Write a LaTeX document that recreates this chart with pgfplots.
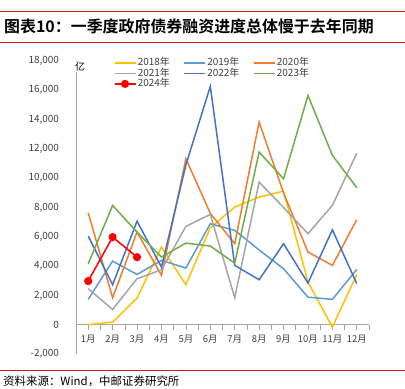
\documentclass[border=0pt]{standalone}
\usepackage{pgfplots}
\pgfplotsset{compat=1.18}
\usepackage{fontspec}
\setmainfont{Noto Sans CJK SC}[BoldFont={Noto Sans CJK SC Bold}]
\definecolor{c2018}{HTML}{FFC000}
\definecolor{c2019}{HTML}{5B9BD5}
\definecolor{c2020}{HTML}{ED7D31}
\definecolor{c2021}{HTML}{A5A5A5}
\definecolor{c2022}{HTML}{4472C4}
\definecolor{c2023}{HTML}{70AD47}
\definecolor{c2024}{HTML}{FF0000}
\definecolor{axgray}{HTML}{A6A6A6}
\definecolor{txtgray}{HTML}{404040}
\definecolor{headred}{HTML}{D01F26}
\begin{document}
\begin{tikzpicture}
\node[anchor=west, font=\fontsize{16}{16}\selectfont\bfseries, inner sep=0] at (4bp,-26bp) {图表10：一季度政府债券融资进度总体慢于去年同期};
\draw[headred, line width=1.3bp] (0bp,-11.3bp) -- (405bp,-11.3bp);
\draw[headred, line width=0.6bp] (0bp,-42.7bp) -- (405bp,-42.7bp);
\draw[headred, line width=0.8bp] (0bp,-370bp) -- (405bp,-370bp);
\node[anchor=west, font=\fontsize{11.5}{11.5}\selectfont, inner sep=0] at (3bp,-381.5bp) {资料来源：Wind，中邮证券研究所};
\begin{axis}[
  at={(76bp,-354bp)}, anchor=south west,
  scale only axis, width=293bp, height=293bp,
  xmin=0.5, xmax=12.5, ymin=-2000, ymax=18000,
  axis x line=middle, axis y line=left,
  axis line style={-, draw=axgray, line width=0.6bp},
  xtick={0.5,1.5,...,12.5}, xticklabels={},
  major tick length=5bp,
  x tick style={draw=axgray, line width=0.6bp, yshift=-2.5bp},
  extra x ticks={1,2,...,12},
  extra x tick labels={1月,2月,3月,4月,5月,6月,7月,8月,9月,10月,11月,12月},
  extra x tick style={tick style={draw=none}, tick label style={font=\fontsize{9.5}{9.5}\selectfont, text=txtgray, yshift=-4bp}},
  scaled y ticks=false,
  ytick={-2000,0,2000,4000,6000,8000,10000,12000,14000,16000,18000},
  yticklabels={-2{,}000,0,2{,}000,4{,}000,6{,}000,8{,}000,10{,}000,12{,}000,14{,}000,16{,}000,18{,}000},
  y tick style={draw=none},
  yticklabel style={font=\fontsize{10}{10}\selectfont, text=txtgray, xshift=-11bp},
  legend columns=3,
  legend style={at={(0.118,1.019)}, anchor=north west, draw=none, fill=none,
    font=\fontsize{10}{10}\selectfont, text=txtgray,
    nodes={inner xsep=1.5bp, inner ysep=0.5bp, text height=7.5bp, text depth=2bp},
    /tikz/every even column/.append style={column sep=12bp}},
  legend image code/.code={\draw[#1] (0bp,0bp) -- (21bp,0bp);},
  every axis plot/.append style={line width=1.5bp},
  clip=false,
]
\addplot[c2018, mark=none] coordinates {(1,0)(2,180)(3,1820)(4,5300)(5,2730)(6,6620)(7,8030)(8,8710)(9,9120)(10,2910)(11,-160)(12,3430)};
\addlegendentry{2018年}
\addplot[c2019, mark=none] coordinates {(1,1730)(2,4340)(3,3430)(4,4390)(5,3870)(6,6890)(7,6440)(8,5100)(9,3820)(10,1880)(11,1730)(12,3770)};
\addlegendentry{2019年}
\addplot[c2020, mark=none] coordinates {(1,7640)(2,1840)(3,6320)(4,3370)(5,11330)(6,7600)(7,5530)(8,13830)(9,9000)(10,4960)(11,4050)(12,7170)};
\addlegendentry{2020年}
\addplot[c2021, mark=none] coordinates {(1,2460)(2,1040)(3,3140)(4,3750)(5,6710)(6,7530)(7,1840)(8,9730)(9,8000)(10,6210)(11,8140)(12,11710)};
\addlegendentry{2021年}
\addplot[c2022, mark=none] coordinates {(1,6050)(2,2730)(3,7070)(4,3930)(5,10900)(6,16270)(7,4050)(8,3070)(9,5530)(10,2840)(11,6480)(12,2800)};
\addlegendentry{2022年}
\addplot[c2023, mark=none] coordinates {(1,4160)(2,8140)(3,6320)(4,4620)(5,5570)(6,5370)(7,4200)(8,11780)(9,9960)(10,15650)(11,11560)(12,9350)};
\addlegendentry{2023年}
\addplot[c2024, mark=*, mark size=3.3bp, mark options={fill=c2024, draw=c2024},
  legend image code/.code={\draw[c2024, line width=1.5bp] (0bp,0bp) -- (21bp,0bp); \fill[c2024] (10.5bp,0bp) circle[radius=3.3bp];}] coordinates {(1,2980)(2,5980)(3,4610)};
\addlegendentry{2024年}
\end{axis}
\node[fill=white, inner sep=0.8bp, font=\fontsize{10}{10}\selectfont, text=black] at (80bp,-67bp) {亿};
\pgfresetboundingbox
\path[use as bounding box] (0bp,0bp) rectangle (405bp,-389bp);
\end{tikzpicture}
\end{document}
